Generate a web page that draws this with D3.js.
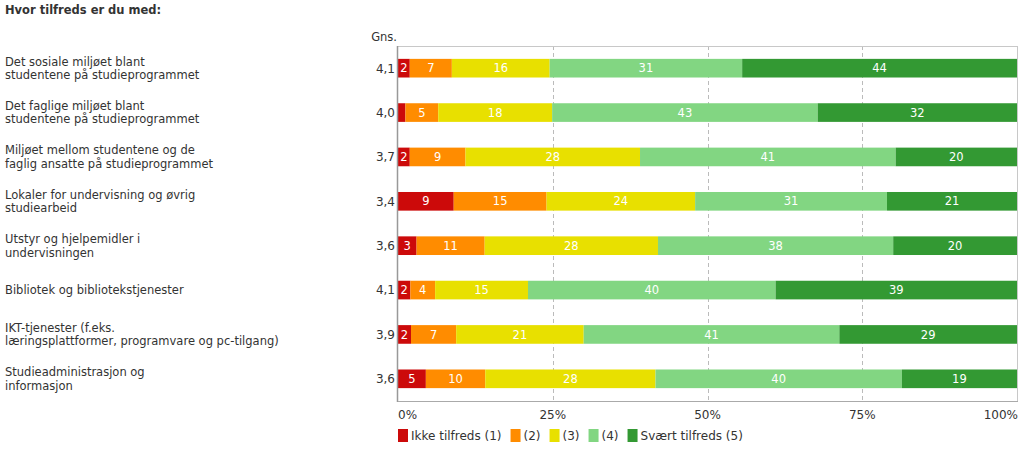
<!DOCTYPE html>
<html>
<head>
<meta charset="utf-8">
<script src="https://cdn.jsdelivr.net/npm/d3@7"></script>
<style>
  html, body { margin: 0; padding: 0; background: #fff; }
  svg { display: block; font-family: "DejaVu Sans", Verdana, sans-serif; }
</style>
</head>
<body>
<svg id="chart" width="1024" height="463"></svg>
<script>
const title = "Hvor tilfreds er du med:";
const categories = [
  ["Det sosiale miljøet blant", "studentene på studieprogrammet"],
  ["Det faglige miljøet blant", "studentene på studieprogrammet"],
  ["Miljøet mellom studentene og de", "faglig ansatte på studieprogrammet"],
  ["Lokaler for undervisning og øvrig", "studiearbeid"],
  ["Utstyr og hjelpemidler i", "undervisningen"],
  ["Bibliotek og bibliotekstjenester"],
  ["IKT-tjenester (f.eks.", "læringsplattformer, programvare og pc-tilgang)"],
  ["Studieadministrasjon og", "informasjon"]
];
const averages = ["4,1", "4,0", "3,7", "3,4", "3,6", "4,1", "3,9", "3,6"];
const seriesNames = ["Ikke tilfreds (1)", "(2)", "(3)", "(4)", "Svært tilfreds (5)"];
const seriesColors = ["#cc0a0a", "#ff8c00", "#e8e000", "#82d682", "#339933"];
const s1 = [1.9, 1.2, 1.9, 9, 3, 2, 2.1, 4.5];
const s2 = [6.8, 5.3, 9.0, 15, 11, 4, 7.3, 9.6];
const s3 = [15.8, 18.4, 28.2, 24, 28, 15, 20.6, 27.5];
const s4 = [31.1, 42.9, 41.3, 31, 38, 40, 41.3, 39.8];
const s5 = [44.4, 32.2, 19.6, 21, 20, 39, 28.7, 18.6];
const tickValues = [0, 25, 50, 75, 100];
const tickLabels = ["0%", "25%", "50%", "75%", "100%"];

const series = [s1, s2, s3, s4, s5];
const svg = d3.select("#chart");

const plot = { left: 398, right: 1017, top: 46, bottom: 401 };
const x = d3.scaleLinear().domain([0, 100]).range([plot.left, plot.right]);
const y = d3.scaleBand().domain(d3.range(categories.length))
  .range([plot.top, plot.bottom]).paddingInner(0.58).paddingOuter(0.29);

// title
svg.append("text").attr("x", 5).attr("y", 14)
  .attr("font-size", 11.5).attr("font-weight", "bold").attr("fill", "#333")
  .text(title);

// Gns. header
svg.append("text").attr("x", 397).attr("y", 41).attr("text-anchor", "end")
  .attr("font-size", 11.5).attr("fill", "#333").text("Gns.");

// grid lines
svg.append("g").selectAll("line").data(tickValues.slice(1, -1)).join("line")
  .attr("x1", d => Math.round(x(d)) + 0.5).attr("x2", d => Math.round(x(d)) + 0.5)
  .attr("y1", plot.top).attr("y2", plot.bottom)
  .attr("stroke", "#bbb").attr("stroke-dasharray", "4,3");

// stacked data
const stacked = categories.map((c, i) => {
  let acc = 0;
  return series.map((s, k) => {
    const v = s[i];
    const seg = { row: i, k, x0: acc, x1: acc + v, v };
    acc += v;
    return seg;
  });
}).flat();

svg.append("g").selectAll("rect").data(stacked).join("rect")
  .attr("x", d => x(d.x0)).attr("width", d => x(d.x1) - x(d.x0))
  .attr("y", d => y(d.row)).attr("height", y.bandwidth())
  .attr("fill", d => seriesColors[d.k]);

svg.append("g").selectAll("text").data(stacked.filter(d => x(d.x1) - x(d.x0) >= 10)).join("text")
  .attr("x", d => (x(d.x0) + x(d.x1)) / 2)
  .attr("y", d => y(d.row) + y.bandwidth() / 2)
  .attr("dy", "0.36em").attr("text-anchor", "middle")
  .attr("font-size", 11.5).attr("fill", "#fff")
  .text(d => Math.round(d.v));

// frame
const frame = svg.append("g").attr("fill", "none");
frame.append("rect").attr("x", plot.left - 0.5).attr("y", plot.top + 0.5)
  .attr("width", plot.right - plot.left + 1).attr("height", plot.bottom - plot.top)
  .attr("stroke", "#c8c8c8");
frame.append("line").attr("x1", plot.left - 0.5).attr("x2", plot.left - 0.5)
  .attr("y1", plot.top).attr("y2", plot.bottom + 1).attr("stroke", "#999").attr("stroke-width", 1.5);
frame.append("line").attr("x1", plot.left).attr("x2", plot.right + 1)
  .attr("y1", plot.bottom + 0.5).attr("y2", plot.bottom + 0.5).attr("stroke", "#aaa");

// category labels
const catG = svg.append("g").attr("font-size", 11.5).attr("fill", "#333");
categories.forEach((lines, i) => {
  const cy = y(i) + y.bandwidth() / 2;
  const lh = 13.5;
  const startY = cy - (lines.length - 1) * lh / 2;
  const t = catG.append("text").attr("x", 5);
  lines.forEach((ln, j) => {
    t.append("tspan").attr("x", 5).attr("y", startY + j * lh).attr("dy", "0.36em").text(ln);
  });
});

// averages
svg.append("g").selectAll("text").data(averages).join("text")
  .attr("x", 395).attr("y", (d, i) => y(i) + y.bandwidth() / 2)
  .attr("dy", "0.36em").attr("text-anchor", "end")
  .attr("font-size", 12).attr("fill", "#333").text(d => d);

// x axis tick labels
svg.append("g").selectAll("text").data(tickValues).join("text")
  .attr("x", (d, i) => i === 0 ? x(d) : i === tickValues.length - 1 ? x(d) + 1 : x(d))
  .attr("y", 419)
  .attr("text-anchor", (d, i) => i === 0 ? "start" : i === tickValues.length - 1 ? "end" : "middle")
  .attr("font-size", 12).attr("fill", "#333").text((d, i) => tickLabels[i]);

// legend
const leg = svg.append("g").attr("font-size", 12).attr("fill", "#333");
let lx = 398;
seriesNames.forEach((name, k) => {
  leg.append("rect").attr("x", lx).attr("y", 429).attr("width", 10).attr("height", 13)
    .attr("fill", seriesColors[k]);
  const t = leg.append("text").attr("x", lx + 13).attr("y", 435.5).attr("dy", "0.36em").text(name);
  lx += 13 + t.node().getComputedTextLength() + 9;
});
</script>
</body>
</html>
